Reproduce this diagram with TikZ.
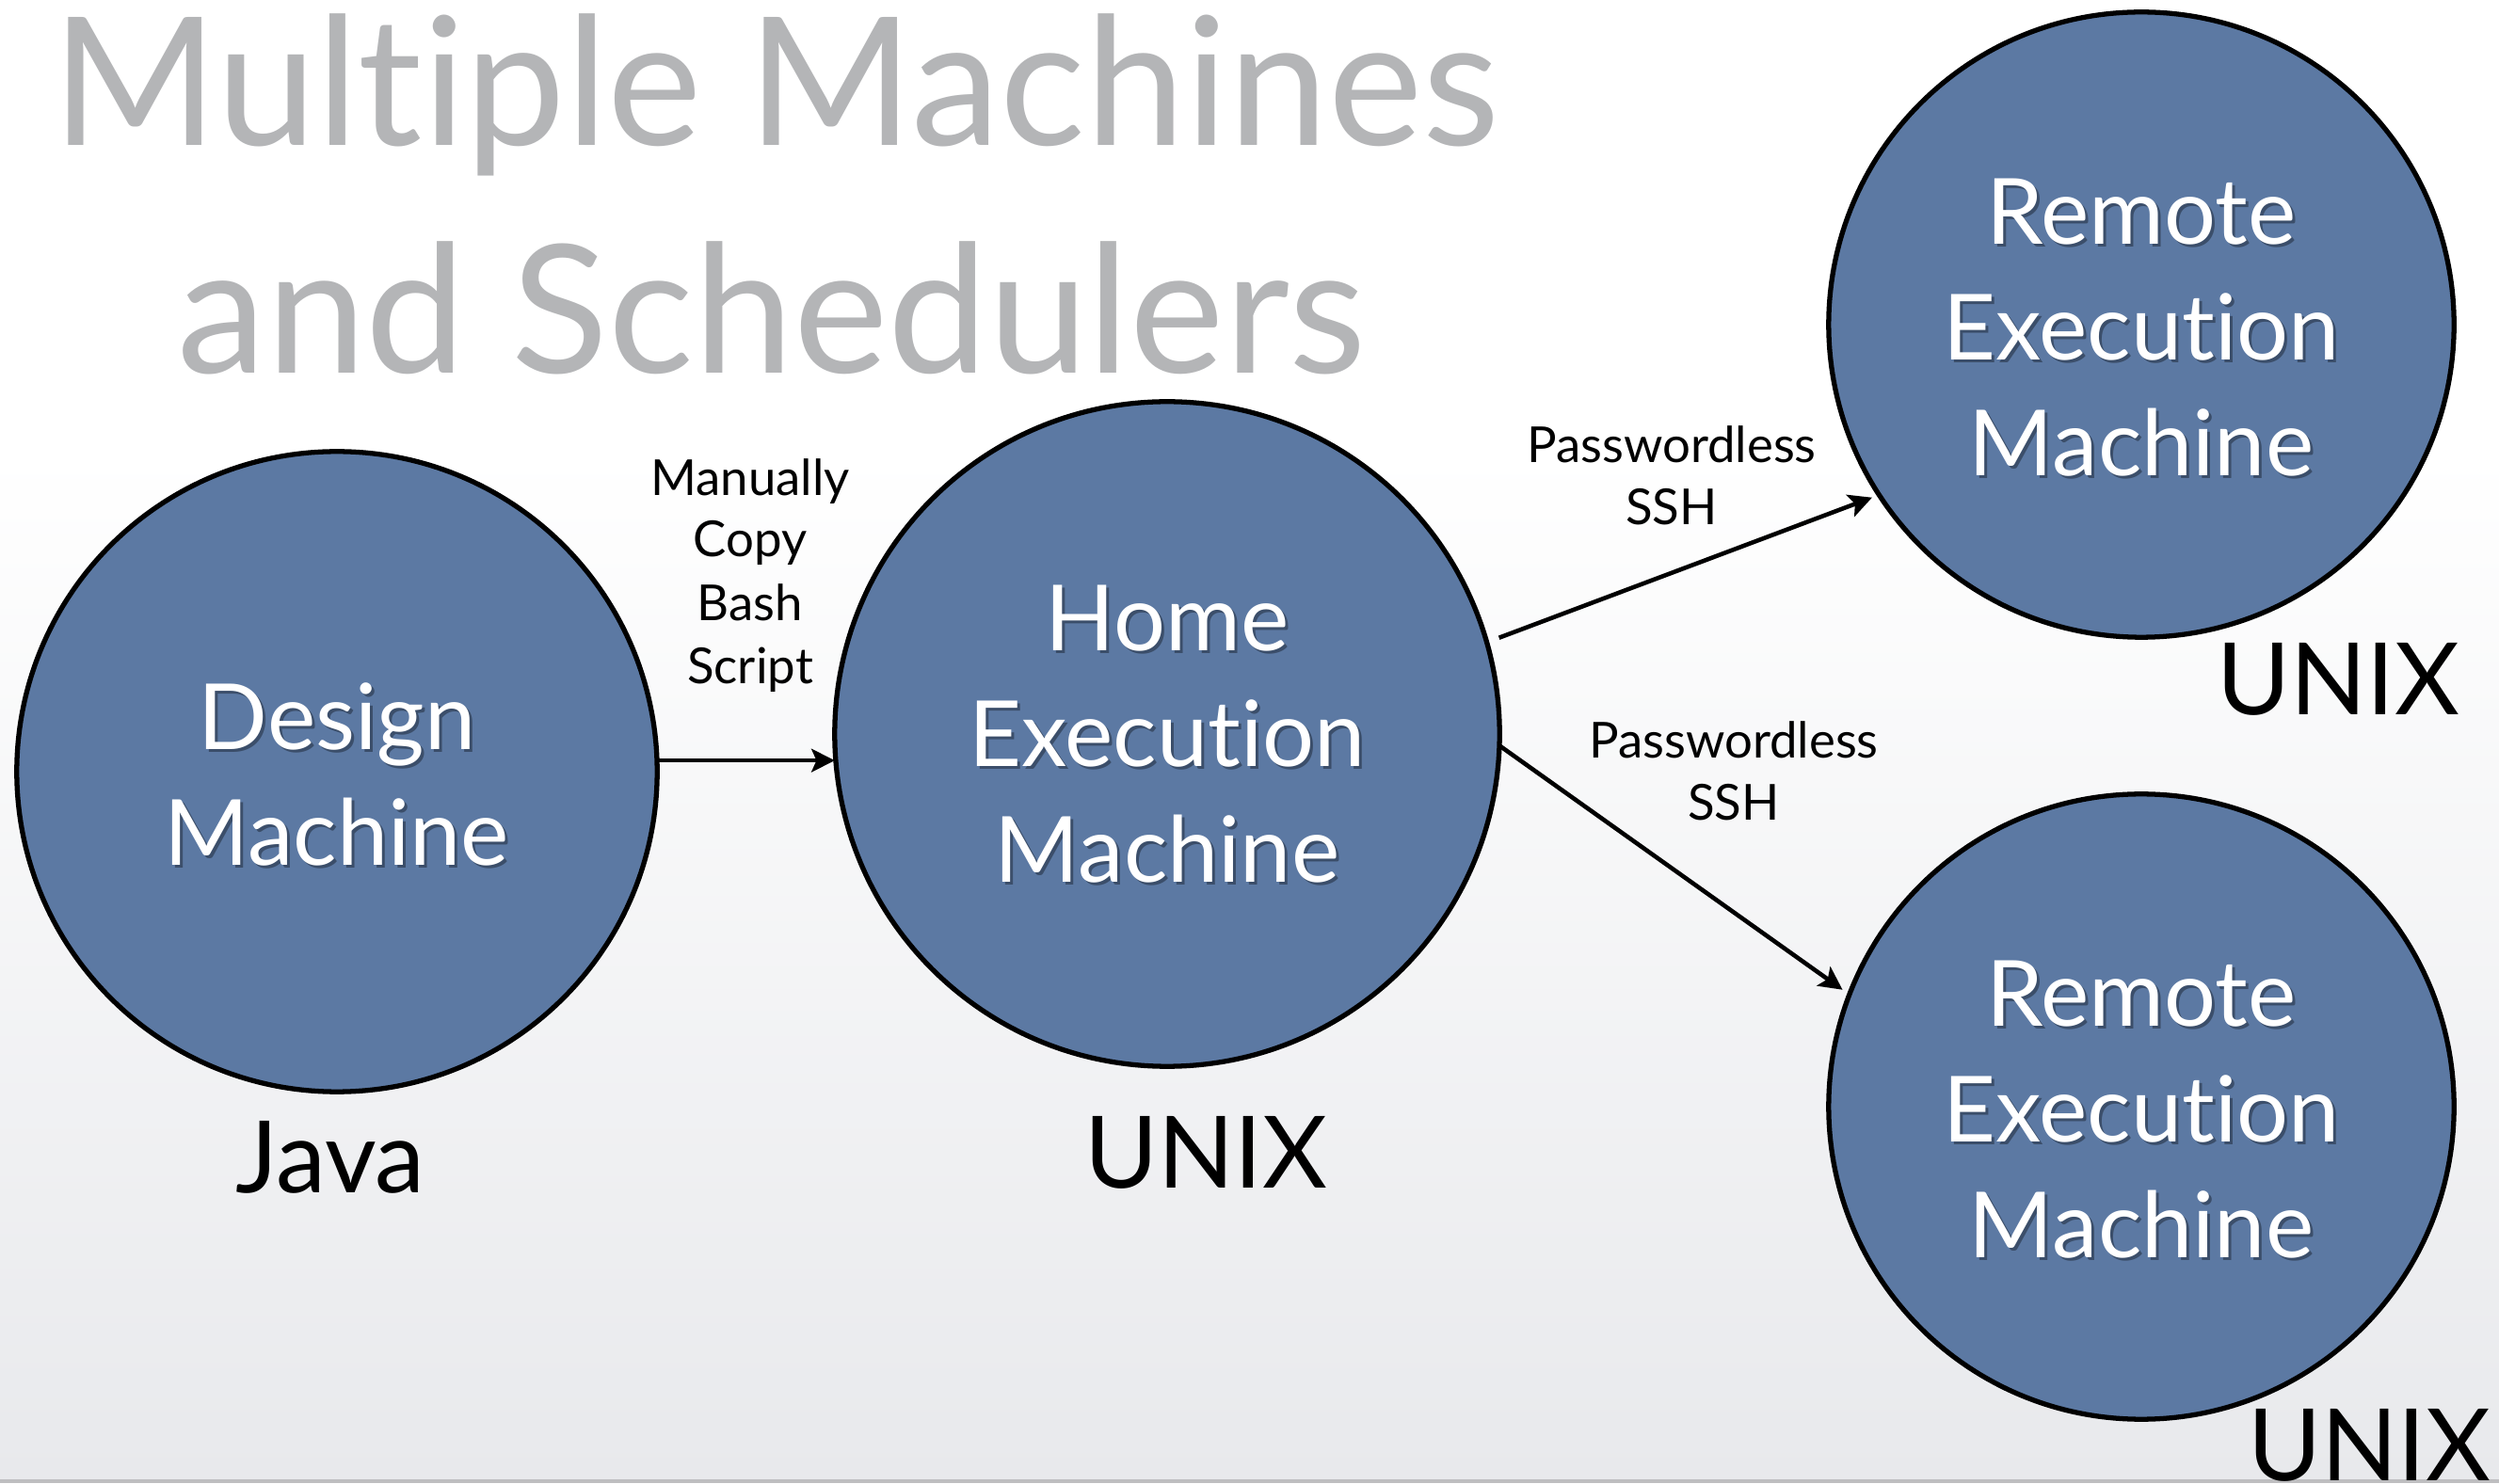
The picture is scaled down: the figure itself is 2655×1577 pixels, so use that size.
\documentclass[tikz,border=0pt]{standalone}
\usepackage{fontspec}
\setmainfont{Lato}[Ligatures=NoCommon]
\usetikzlibrary{arrows.meta}

\definecolor{machinefill}{RGB}{92,121,163}
\definecolor{titlegray}{RGB}{180,181,183}
\definecolor{bgbottom}{RGB}{232,233,236}
\definecolor{edgegray}{RGB}{190,190,192}

\begin{document}
\begin{tikzpicture}[x=0.01cm, y=-0.01cm,
  machine/.style={circle, draw=black, line width=1.5pt, fill=machinefill,
    inner sep=0pt, outer sep=0pt},
  machinetext/.style={text=white, align=center, inner sep=0pt,
    font=\fontsize{27.6}{35}\selectfont},
  textshadow/.style={machinetext, text=black, text opacity=0.35},
  oslabel/.style={text=black, inner sep=0pt, anchor=base,
    font=\fontsize{30.2}{36}\selectfont},
  linklabel/.style={text=black, inner sep=0pt, anchor=base,
    font=\fontsize{15}{19}\selectfont},
  titleline/.style={text=titlegray, inner sep=0pt, anchor=base,
    font=\fontsize{54}{68}\selectfont},
  link/.style={-{Stealth[length=7pt, width=7pt, inset=1.5pt]}, line width=1.3pt}
]
\useasboundingbox (0,0) rectangle (2655,1577);
\clip (0,0) rectangle (2655,1577);

% slide background
\fill[white] (0,0) rectangle (2655,1577);
\shade[top color=white, bottom color=bgbottom] (0,480) rectangle (2655,1572);
\fill[edgegray] (0,1572) rectangle (2655,1576);

% title
\node[titleline] (title1) at (824,155) {Multiple Machines};
\node[titleline] (title2) at (820,397) {and Schedulers};

% machines
\node[machine, minimum size=6.80cm] (design) at (358,820) {};
\node[machine, minimum size=7.06cm] (home)   at (1240,780) {};
\node[machine, minimum size=6.64cm] (rtop)   at (2275,345) {};
\node[machine, minimum size=6.64cm] (rbot)   at (2275,1176) {};

% machine names with a soft drop shadow
\node[textshadow] (designsh) at (361,826) {Design\\Machine};
\node[machinetext] (designtx) at (358,823) {Design\\Machine};
\node[textshadow] (homesh) at (1243,783) {Home\\Execution\\Machine};
\node[machinetext] (hometx) at (1240,780) {Home\\Execution\\Machine};
\node[textshadow] (rtopsh) at (2278,351) {Remote\\Execution\\Machine};
\node[machinetext] (rtoptx) at (2275,348) {Remote\\Execution\\Machine};
\node[textshadow] (rbotsh) at (2278,1182) {Remote\\Execution\\Machine};
\node[machinetext] (rbottx) at (2275,1179) {Remote\\Execution\\Machine};

% platforms
\node[oslabel] (java)  at (351,1267)  {Java};
\node[oslabel] (unix1) at (1281,1262) {UNIX};
\node[oslabel] (unix2) at (2484,760)  {UNIX};
\node[oslabel] (unix3) at (2517,1573) {UNIX};

% connectors
\draw[link] (design.2.4) -- (design.2.4 -| home.west);
\draw[link, shorten <=0.14cm, shorten >=0.08cm] (home.16) -- (rtop.213);
\draw[link, shorten >=0.09cm] (home.-2) -- (rbot.159);

% connector labels
\node[linklabel] (copy1) at (797,527) {Manually};
\node[linklabel] (copy2) at (797,592) {Copy};
\node[linklabel] (copy3) at (797,660) {Bash};
\node[linklabel] (copy4) at (797,727) {Script};

\node[linklabel] (sshtop1) at (1776,492) {Passwordless};
\node[linklabel] (sshtop2) at (1776,558) {SSH};

\node[linklabel] (sshbot1) at (1842,806) {Passwordless};
\node[linklabel] (sshbot2) at (1842,872) {SSH};
\end{tikzpicture}
\end{document}
